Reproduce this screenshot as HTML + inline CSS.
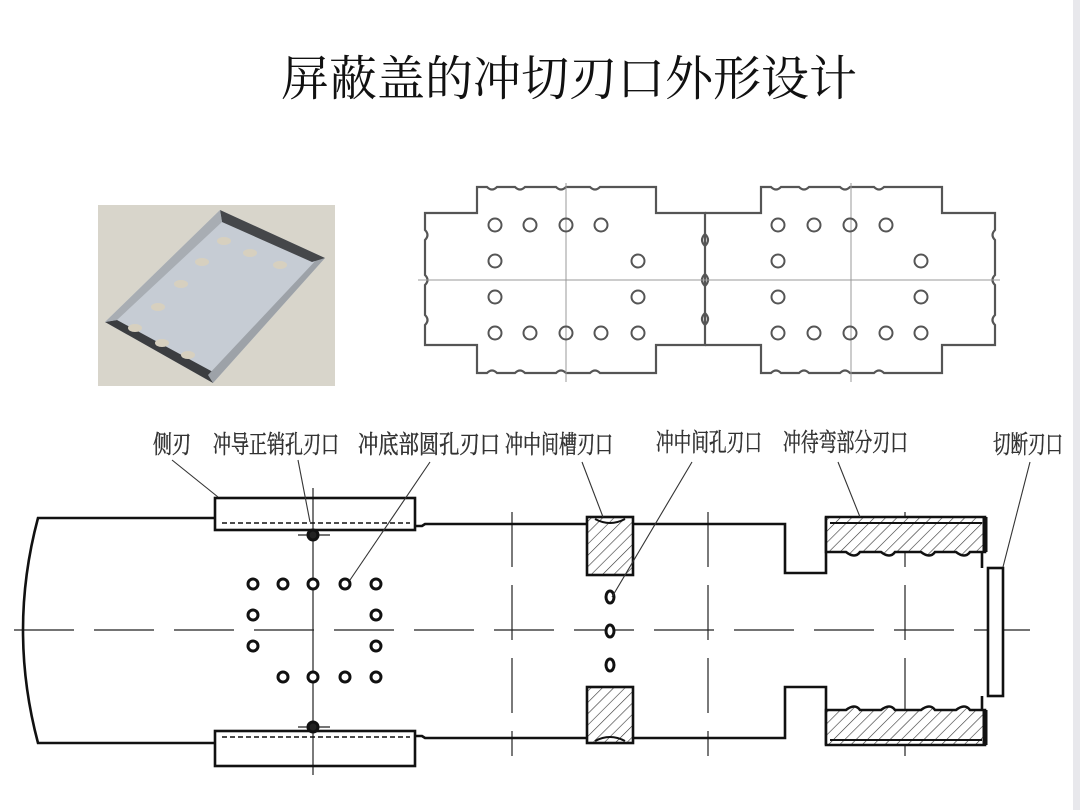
<!DOCTYPE html>
<html><head><meta charset="utf-8"><style>
html,body{margin:0;padding:0;background:#fff;}
svg{display:block;}
</style></head><body>
<svg width="1080" height="810" viewBox="0 0 1080 810" xmlns="http://www.w3.org/2000/svg">
<defs>
<pattern id="h" width="8" height="8" patternUnits="userSpaceOnUse" patternTransform="rotate(45)">
<rect width="8" height="8" fill="#fff"/><line x1="0" y1="0" x2="0" y2="8" stroke="#333" stroke-width="1.2"/>
</pattern>
</defs>
<rect x="0" y="0" width="1080" height="810" fill="#fff"/>
<rect x="1073" y="0" width="7" height="810" fill="#e8e8ec"/>
<text x="569" y="95" text-anchor="middle" font-family="Liberation Serif, 'Noto Serif CJK SC', serif" font-size="48" fill="#111">屏蔽盖的冲切刃口外形设计</text>

<!-- 3D image -->
<rect x="98" y="205" width="237" height="181" fill="#d8d5cb"/>
<polygon points="220,210 325,258 213,383 105,322" fill="#c6ccd4"/>
<polygon points="105,322 213,383 213,372 117,320" fill="#3b3d40"/>
<polygon points="213,383 325,258 318,258 208,375" fill="#9da2a8"/>
<polygon points="220,210 325,258 312,262 222,222" fill="#45474a"/>
<polygon points="105,322 220,210 222,222 117,320" fill="#a8adb3"/>
<g fill="#d7d0bf"><ellipse cx="224" cy="241" rx="7" ry="4"/><ellipse cx="250" cy="253" rx="7" ry="4"/><ellipse cx="280" cy="265" rx="7" ry="4"/>
<ellipse cx="202" cy="262" rx="7" ry="4"/><ellipse cx="181" cy="284" rx="7" ry="4"/><ellipse cx="158" cy="307" rx="7" ry="4"/>
<ellipse cx="135" cy="328" rx="7" ry="4"/><ellipse cx="162" cy="343" rx="7" ry="4"/><ellipse cx="188" cy="355" rx="7" ry="4"/></g>

<!-- top right blanks -->
<g fill="none" stroke="#555" stroke-width="2.2">
<path d="M425,213 H477 V187 H487 q5,5 10,0 H515 q5,5 10,0 H556 q5,5 10,0 H590 q5,5 10,0 H656 V213 H705 V345 H656 V373 H600 q-5,-5 -10,0 H566 q-5,-5 -10,0 H525 q-5,-5 -10,0 H497 q-5,-5 -10,0 H477 V345 H425 V325 q5,-5 0,-10 V285 q5,-5 0,-10 V240 q5,-5 0,-10 Z"/>
<path d="M705,213 H761 V187 H771 q5,5 10,0 H799 q5,5 10,0 H840 q5,5 10,0 H874 q5,5 10,0 H942 V213 H995 V230 q-5,5 0,10 V275 q-5,5 0,10 V315 q-5,5 0,10 V345 H942 V373 H884 q-5,-5 -10,0 H850 q-5,-5 -10,0 H809 q-5,-5 -10,0 H781 q-5,-5 -10,0 H761 V345 H705"/>
<path d="M705,234 q-6,6 0,12 q6,-6 0,-12 M705,274 q-6,6 0,12 q6,-6 0,-12 M705,313 q-6,6 0,12 q6,-6 0,-12"/>
</g>
<g stroke="#999" stroke-width="1"><line x1="418" y1="280" x2="1000" y2="280"/><line x1="566" y1="183" x2="566" y2="382"/><line x1="851" y1="183" x2="851" y2="382"/></g>
<g fill="none" stroke="#555" stroke-width="2">
<circle cx="495" cy="225" r="6.5"/><circle cx="530" cy="225" r="6.5"/><circle cx="566" cy="225" r="6.5"/><circle cx="601" cy="225" r="6.5"/>
<circle cx="495" cy="261" r="6.5"/><circle cx="638" cy="261" r="6.5"/><circle cx="495" cy="297" r="6.5"/><circle cx="638" cy="297" r="6.5"/>
<circle cx="495" cy="333" r="6.5"/><circle cx="530" cy="333" r="6.5"/><circle cx="566" cy="333" r="6.5"/><circle cx="601" cy="333" r="6.5"/><circle cx="638" cy="333" r="6.5"/>
<circle cx="778" cy="225" r="6.5"/><circle cx="814" cy="225" r="6.5"/><circle cx="850" cy="225" r="6.5"/><circle cx="886" cy="225" r="6.5"/>
<circle cx="778" cy="261" r="6.5"/><circle cx="921" cy="261" r="6.5"/><circle cx="778" cy="297" r="6.5"/><circle cx="921" cy="297" r="6.5"/>
<circle cx="778" cy="333" r="6.5"/><circle cx="814" cy="333" r="6.5"/><circle cx="850" cy="333" r="6.5"/><circle cx="886" cy="333" r="6.5"/><circle cx="921" cy="333" r="6.5"/>
</g>

<!-- strip layout -->
<g stroke="#222" stroke-width="1.2" stroke-dasharray="60,20">
<line x1="14" y1="630" x2="1030" y2="630"/>
</g>
<g stroke="#222" stroke-width="1.2" stroke-dasharray="55,18">
<line x1="512" y1="512" x2="512" y2="756"/><line x1="708" y1="512" x2="708" y2="756"/><line x1="905" y1="512" x2="905" y2="756"/>
</g>
<line x1="313" y1="488" x2="313" y2="775" stroke="#222" stroke-width="1.2"/>
<g fill="none" stroke="#111" stroke-width="2.6">
<path d="M215,518 H38 Q8,630 38,743 H215"/>
<path d="M415,526 H422 L425,524 H785 V573 H826 V517"/>
<path d="M415,736 H422 L425,738 H785 V687 H826 V745"/>
<rect x="215" y="498" width="200" height="32"/>
<rect x="215" y="731" width="200" height="35"/>
<rect x="587" y="517" width="46" height="58" fill="url(#h)"/>
<rect x="587" y="687" width="46" height="56" fill="url(#h)"/>
<path d="M826,517 H985 V552 H970 q-5,7 -14,0 H935 q-5,7 -14,0 H895 q-5,7 -14,0 H860 q-5,7 -14,0 H826 Z" fill="url(#h)"/>
<path d="M826,745 H985 V710 H970 q-5,-7 -14,0 H935 q-5,-7 -14,0 H895 q-5,-7 -14,0 H860 q-5,-7 -14,0 H826 Z" fill="url(#h)"/>
<path d="M982,552 V568 M982,696 V710"/>
<rect x="988" y="568" width="15" height="128" fill="#fff"/>
</g>
<line x1="830" y1="523" x2="982" y2="523" stroke="#111" stroke-width="2"/>
<line x1="830" y1="740" x2="982" y2="740" stroke="#111" stroke-width="2"/>
<line x1="985" y1="517" x2="985" y2="552" stroke="#111" stroke-width="5"/>
<line x1="985" y1="710" x2="985" y2="745" stroke="#111" stroke-width="5"/>
<g fill="#fff" stroke="#111" stroke-width="2">
<path d="M595,519 q15,8 30,0" fill="none"/>
<path d="M595,741 q15,-8 30,0" fill="none"/>
</g>
<g stroke="#111" stroke-width="1.5" stroke-dasharray="5,3">
<line x1="222" y1="523" x2="410" y2="523"/><line x1="222" y1="737" x2="410" y2="737"/>
</g>
<g stroke="#222" stroke-width="1.2"><line x1="298" y1="535" x2="330" y2="535"/><line x1="298" y1="727" x2="330" y2="727"/></g>
<g fill="#fff" stroke="#111" stroke-width="3">
<circle cx="313" cy="535" r="5" fill="#222"/><circle cx="313" cy="727" r="5" fill="#222"/>
<circle cx="253" cy="584" r="5"/><circle cx="283" cy="584" r="5"/><circle cx="313" cy="584" r="5"/><circle cx="345" cy="584" r="5"/><circle cx="376" cy="584" r="5"/>
<circle cx="253" cy="615" r="5"/><circle cx="376" cy="615" r="5"/><circle cx="253" cy="646" r="5"/><circle cx="376" cy="646" r="5"/>
<circle cx="283" cy="677" r="5"/><circle cx="313" cy="677" r="5"/><circle cx="345" cy="677" r="5"/><circle cx="376" cy="677" r="5"/>
<ellipse cx="610" cy="597" rx="4" ry="6"/><ellipse cx="610" cy="631" rx="4" ry="6"/><ellipse cx="610" cy="665" rx="4" ry="6"/>
</g>

<!-- leaders -->
<g stroke="#333" stroke-width="1.1" fill="none">
<line x1="172" y1="460" x2="218" y2="497"/>
<line x1="298" y1="460" x2="310" y2="522"/>
<line x1="430" y1="462" x2="350" y2="580"/>
<line x1="582" y1="462" x2="603" y2="517"/>
<line x1="692" y1="462" x2="612" y2="597"/>
<line x1="838" y1="462" x2="860" y2="517"/>
<line x1="1030" y1="462" x2="1003" y2="567"/>
</g>
<g font-family="Liberation Serif, 'Noto Serif CJK SC', serif" font-size="25" fill="#333" stroke="#333" stroke-width="0.5">
<text x="153" y="453" textLength="38" lengthAdjust="spacingAndGlyphs">侧刃</text>
<text x="213" y="453" textLength="126" lengthAdjust="spacingAndGlyphs">冲导正销孔刃口</text>
<text x="358" y="453" textLength="142" lengthAdjust="spacingAndGlyphs">冲底部圆孔刃口</text>
<text x="505" y="453" textLength="108" lengthAdjust="spacingAndGlyphs">冲中间槽刃口</text>
<text x="656" y="451" textLength="106" lengthAdjust="spacingAndGlyphs">冲中间孔刃口</text>
<text x="783" y="451" textLength="125" lengthAdjust="spacingAndGlyphs">冲待弯部分刃口</text>
<text x="993" y="453" textLength="70" lengthAdjust="spacingAndGlyphs">切断刃口</text>
</g>
</svg>
</body></html>
